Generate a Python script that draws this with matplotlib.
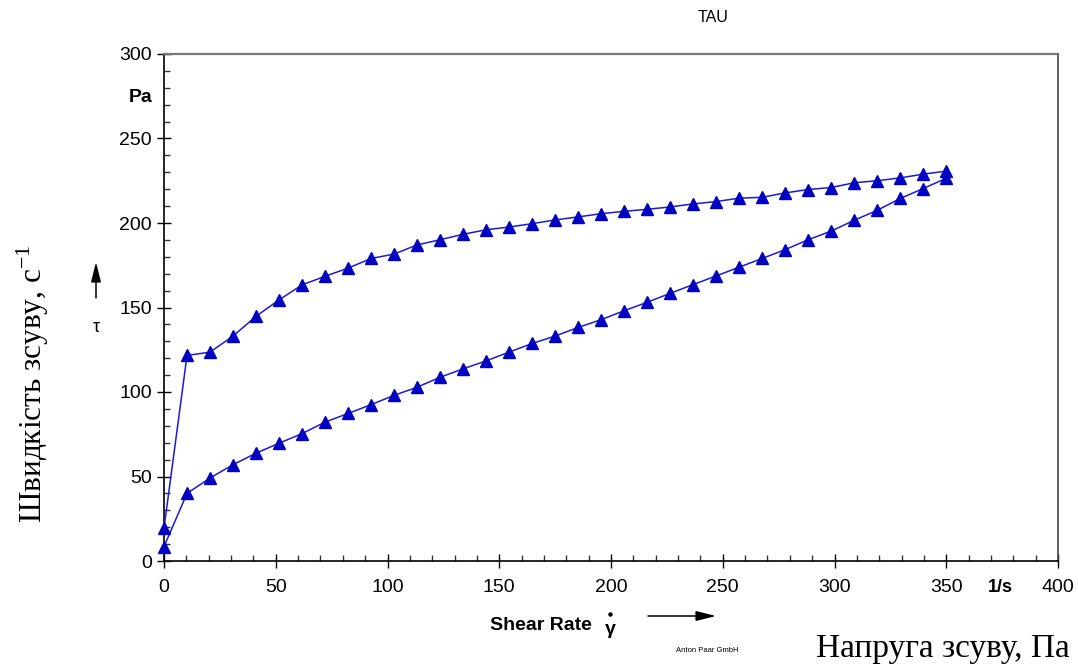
import numpy as np
import matplotlib
matplotlib.use("Agg")
import matplotlib.pyplot as plt
from matplotlib.ticker import MultipleLocator
from matplotlib.lines import Line2D

plt.rcParams['font.family'] = ['Liberation Sans', 'DejaVu Sans']
plt.rcParams['mathtext.fontset'] = 'custom'
plt.rcParams['mathtext.rm'] = 'Liberation Serif'
plt.rcParams['mathtext.it'] = 'Liberation Serif:italic'

# shear rate grid (1/s) and shear stress (Pa)
shear_rate = [0.0, 10.3, 20.6, 30.9, 41.2, 51.5, 61.8, 72.1, 82.4, 92.6, 102.9,
              113.2, 123.5, 133.8, 144.1, 154.4, 164.7, 175.0, 185.3, 195.6,
              205.9, 216.2, 226.5, 236.8, 247.1, 257.4, 267.6, 277.9, 288.2,
              298.5, 308.8, 319.1, 329.4, 339.7, 350.0]
tau_up = [8.5, 40.0, 49.1, 57.0, 63.8, 69.7, 75.4, 82.2, 87.3, 92.5, 98.0,
          102.8, 108.7, 113.7, 118.4, 123.6, 128.7, 133.1, 138.2, 142.8,
          148.1, 153.1, 158.4, 163.6, 168.7, 173.9, 179.0, 184.2, 190.1,
          195.2, 201.6, 207.5, 214.5, 220.4, 226.5]
tau_down = [19.4, 121.6, 123.6, 133.1, 144.8, 154.5, 163.4, 168.5, 173.3, 179.0,
            181.6, 187.0, 190.1, 193.3, 196.0, 197.6, 199.6, 201.8, 203.6,
            205.5, 206.9, 208.1, 209.5, 211.3, 212.7, 214.7, 215.2, 217.8,
            219.8, 221.0, 223.8, 225.0, 226.7, 228.9, 230.7]
x_ticks = [0, 50, 100, 150, 200, 250, 300, 350, 400]
x_ticklabels = ['0', '50', '100', '150', '200', '250', '300', '350', '400']

x_all = list(shear_rate) + list(shear_rate[::-1])
y_all = list(tau_up) + list(tau_down[::-1])

W, H = 1078, 672
fig = plt.figure(figsize=(W / 100, H / 100), dpi=100)
ax = fig.add_axes([164 / W, 1 - 561 / H, (1058 - 164) / W, (561 - 54) / H])

ax.plot(x_all, y_all, color='#1a1ad8', lw=1.1, marker='^', markersize=8,
        markerfacecolor='#0000c0', markeredgecolor='#0000c0', zorder=3,
        clip_on=False)

ax.set_xlim(0, 400)
ax.set_ylim(0, 300)
ax.xaxis.set_major_locator(MultipleLocator(50))
ax.xaxis.set_minor_locator(MultipleLocator(10))
ax.yaxis.set_major_locator(MultipleLocator(50))
ax.yaxis.set_minor_locator(MultipleLocator(10))
ax.tick_params(which='major', direction='inout', length=10, width=1,
               labelsize=14, color='black')
ax.tick_params(axis='y', which='major', pad=3.6)
ax.tick_params(axis='x', which='major', pad=8)
ax.tick_params(which='minor', direction='in', length=4, width=1, color='#333333')
ax.set_xticks(x_ticks)
ax.set_xticklabels(x_ticklabels)

for s in ['left', 'bottom']:
    ax.spines[s].set_color('black')
    ax.spines[s].set_linewidth(1.2)
ax.spines['top'].set_color('#777777')
ax.spines['top'].set_linewidth(1.6)
ax.spines['right'].set_color('#444444')
ax.spines['right'].set_linewidth(1.2)


def fp(x, y):
    return (x / W, 1 - y / H)


# top label
fig.text(*fp(713, 17), 'TAU', ha='center', va='center', fontsize=11.5)
# unit labels
fig.text(*fp(141, 98), 'Pa', ha='center', va='center', fontsize=14,
         fontweight='bold')
fig.text(*fp(1000, 587), '1/s', ha='center', va='center', fontsize=13,
         fontweight='bold')
# axis name x
fig.text(*fp(490, 626), 'Shear Rate', ha='left', va='center', fontsize=14,
         fontweight='bold')
fig.text(*fp(610, 629), 'γ', ha='center', va='center', fontsize=14,
         fontweight='bold')
# dot of gamma-dot
fig.add_artist(Line2D([610 / W], [1 - 614 / H], marker='o', markersize=2.2,
                      color='black', transform=fig.transFigure))
fig.text(*fp(96, 328), 'τ', ha='center', va='center', fontsize=13)

# arrows
ax.annotate('', xy=fp(716, 616), xycoords='figure fraction',
            xytext=fp(648, 616), textcoords='figure fraction',
            arrowprops=dict(arrowstyle='-|>,head_length=1.2,head_width=0.3',
                            color='black', lw=1.1, shrinkA=0, shrinkB=0))
ax.annotate('', xy=fp(96, 262), xycoords='figure fraction',
            xytext=fp(96, 298), textcoords='figure fraction',
            arrowprops=dict(arrowstyle='-|>,head_length=1.2,head_width=0.3',
                            color='black', lw=1.1, shrinkA=0, shrinkB=0))

# Ukrainian axis captions
fig.text(*fp(33, 384), 'Швидкість зсуву, с$^{-1}$', rotation=90, ha='center',
         va='center', fontsize=22.5, family=['Liberation Serif', 'DejaVu Serif'],
         math_fontfamily='custom')
fig.text(*fp(1070, 649), 'Напруга зсуву, Па', ha='right', va='center',
         fontsize=24, family=['Liberation Serif', 'DejaVu Serif'])
fig.text(*fp(707, 651), 'Anton Paar GmbH', ha='center', va='center',
         fontsize=5.5)

fig.savefig('out.png', dpi=100)
